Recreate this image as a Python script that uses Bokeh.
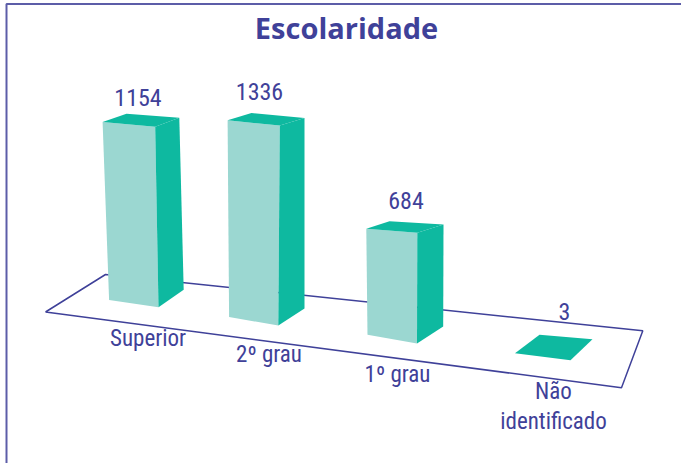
from bokeh.plotting import figure
from bokeh.embed import file_html
from bokeh.resources import INLINE
from bokeh.core.properties import value as fixed
from bokeh.models import Range1d

categories = ["Superior", "2º grau", "1º grau", "Não\nidentificado"]
values = [1154, 1336, 684, 3]
title = "Escolaridade"

# scene layout (screen-like units): floor corners of each bar: front-left, front-right, back-right, back-left
footprints = [
    [(108.6, 299.5), (158, 306.8), (183.2, 289.3), (134, 283)],
    [(228.6, 316.5), (277.8, 325), (304, 308), (253, 301)],
    [(367, 334.3), (416.5, 343), (442.7, 326), (391, 318)],
    [(514.5, 353), (570, 360), (592, 339), (539, 334.6)],
]
# height per unit of value at each corner (foreshortening)
rise = [
    [0.1542, 0.1565, 0.1490, 0.1470],
    [0.1472, 0.1497, 0.1425, 0.1410],
    [0.1550, 0.1620, 0.1490, 0.1420],
    [0.1000, 0.1000, 0.1000, 0.1000],
]
# sideways lean of the top corners, in scene units
lean = [
    [-6.5, -3.3, -4.4, -8],
    [-1.5, 1.5, 0, -2],
    [-1.2, 0.3, 0.3, -2],
    [0, 0, 0, 0],
]
floor_x = [45, 105, 642.3, 621, 45]
floor_y = [311.5, 274, 330.3, 387.3, 311.5]
frame_x = [681, 6, 6]
frame_y = [3.5, 3.5, 463]

INK = "#3f4199"
LIGHT = "#9bd7d1"
DARK = "#0eb9a0"
LABEL_FONT = fixed("Roboto Condensed, Lato")

value_pos = [(137.5, 97), (259, 91), (405.5, 200), (564, 311)]
cat_pos = [(147.5, 338), (268.5, 354), (397, 374), (553, 406)]

p = figure(width=681, height=463, output_backend="svg", toolbar_location=None,
           x_range=Range1d(0, 681), y_range=Range1d(463, 0),
           min_border=0, outline_line_color=None, margin=0)
p.axis.visible = False
p.grid.visible = False

p.line(frame_x, frame_y, line_color=INK, line_width=2, line_alpha=0.85)
p.line(floor_x, floor_y, line_color=INK, line_width=1.5)

for val, base, k, dx in zip(values, footprints, rise, lean):
    top = [(x + d, y - val * r) for (x, y), r, d in zip(base, k, dx)]
    if val * k[0] > 1:
        p.patch([base[0][0], base[1][0], top[1][0], top[0][0]],
                [base[0][1], base[1][1], top[1][1], top[0][1]],
                fill_color=LIGHT, line_color=None)
        p.patch([base[1][0], base[2][0], top[2][0], top[1][0]],
                [base[1][1], base[2][1], top[2][1], top[1][1]],
                fill_color=DARK, line_color=None)
    p.patch([t[0] for t in top], [t[1] for t in top], fill_color=DARK, line_color=None)

p.text([v[0] for v in value_pos], [v[1] for v in value_pos], text=[str(v) for v in values],
       text_font=LABEL_FONT, text_font_size="24px", text_color=INK,
       text_align="center", text_baseline="middle")
p.text([c[0] for c in cat_pos], [c[1] for c in cat_pos], text=categories,
       text_font=LABEL_FONT, text_font_size="23px", text_color=INK,
       text_align="center", text_baseline="middle", text_line_height=1.1)
p.text([346], [27], text=[title], text_font=fixed("Open Sans"), text_font_style="bold",
       text_font_size="29px", text_color=INK, text_align="center", text_baseline="middle")

open("out.html", "w").write(file_html(p, INLINE))
